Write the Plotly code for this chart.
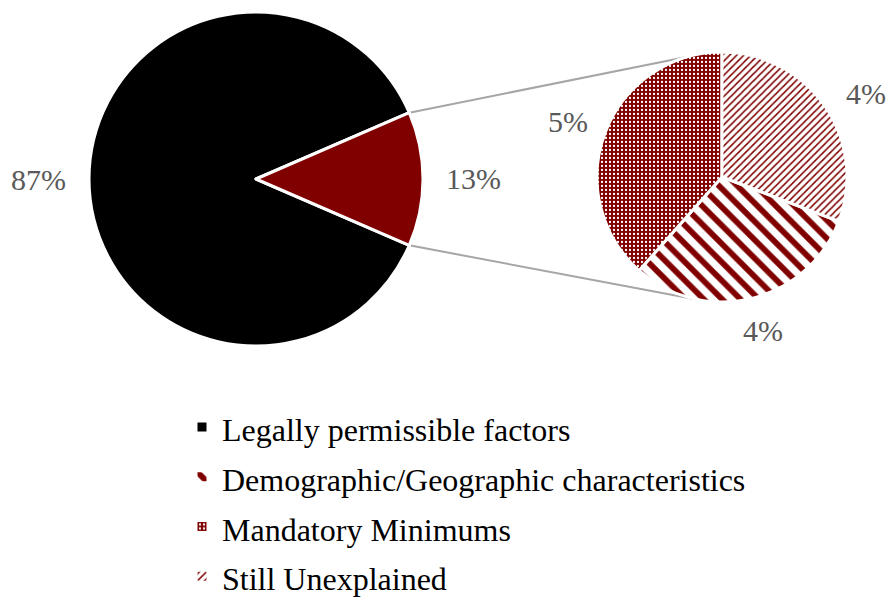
import math
import plotly.graph_objects as go

# ---------------- data ----------------
main_labels = ["Legally permissible factors", "Other (unexplained share)"]
main_values = [87, 13]

detail_labels = ["Legally permissible factors",
                 "Demographic/Geographic characteristics",
                 "Mandatory Minimums",
                 "Still Unexplained"]
detail_values = [0, 4, 5, 4]   # share of total (%); first entry only feeds the legend

# ---------------- style ----------------
W, H = 886, 601
DARK_RED = "#800000"
GREY_TXT = "#595959"
FONT = "Liberation Serif"

# pie geometry in pixels (center x, center y, radius)
L_CX, L_CY, L_R = 256, 179, 167
R_CX, R_CY, R_R = 722, 177, 125
# small pixel nudges for the detail-pie labels (x, y)
DET_LABEL_SHIFT = [(0, 0), (2, -7), (0, 3), (8, 10)]


def px2paper(x, y):
    return x / W, 1 - y / H


def dom(cx, cy, r):
    x0, y1 = px2paper(cx - r, cy - r)
    x1, y0 = px2paper(cx + r, cy + r)
    return dict(x=[x0, x1], y=[y0, y1])


def pt(cx, cy, r, ang):
    a = math.radians(ang)
    return cx + r * math.sin(a), cy - r * math.cos(a)


def leg(label):
    return f"<span style='font-size:32px'>{label}</span>"


# rotation: centre the second main slice at 3 o'clock
tot_main = sum(main_values)
rot_main = (90 - (main_values[0] + main_values[1] / 2) / tot_main * 360) % 360
main_angles = []
acc = rot_main
for v in main_values:
    a0 = acc
    acc += v / tot_main * 360
    main_angles.append((a0, acc))

# detail pie: last slice starts at 12 o'clock
tot_det = sum(detail_values)
rot_det = (-sum(detail_values[:-1]) / tot_det * 360) % 360
det_angles = []
acc = rot_det
for v in detail_values:
    a0 = acc
    acc += v / tot_det * 360
    det_angles.append((a0, acc))

fig = go.Figure()

fig.add_trace(go.Pie(
    labels=[leg(l) for l in main_labels],
    values=main_values,
    sort=False,
    direction="clockwise",
    rotation=rot_main,
    domain=dom(L_CX, L_CY, L_R),
    marker=dict(colors=["#000000", DARK_RED], line=dict(color="white", width=3)),
    textinfo="none",
    hoverinfo="label+percent",
    showlegend=False,
))

patterns = [
    dict(shape=""),
    dict(shape="\\", fgcolor=DARK_RED, bgcolor="white", size=13, solidity=0.45),
    dict(shape=".", fgcolor="white", bgcolor=DARK_RED, size=4, solidity=0.25),
    dict(shape="/", fgcolor=DARK_RED, bgcolor="white", size=5, solidity=0.3),
]

fig.add_trace(go.Pie(
    labels=[leg(l) for l in detail_labels],
    values=detail_values,
    sort=False,
    direction="clockwise",
    rotation=rot_det,
    domain=dom(R_CX, R_CY, R_R),
    marker=dict(colors=["#000000", DARK_RED, DARK_RED, DARK_RED],
                line=dict(color="white", width=3),
                pattern=dict(
                    shape=[p.get("shape", "") for p in patterns],
                    fgcolor=[p.get("fgcolor", "#000000") for p in patterns],
                    bgcolor=[p.get("bgcolor", "#000000") for p in patterns],
                    size=[p.get("size", 8) for p in patterns],
                    solidity=[p.get("solidity", 0.3) for p in patterns],
                    fillmode="replace",
                )),
    textinfo="none",
    hoverinfo="label+percent",
    showlegend=True,
))

# ---------------- percentage labels ----------------
LABEL_FONT = dict(family=FONT, size=30, color=GREY_TXT)
annotations = []
for (a0, a1), v in zip(main_angles, main_values):
    mid = (a0 + a1) / 2
    x, y = pt(L_CX, L_CY, L_R * 1.3, mid)
    xp, yp = px2paper(x, y)
    annotations.append(dict(x=xp, y=yp, xref="paper", yref="paper", text=f"{v}%",
                            xanchor="center", yanchor="middle",
                            showarrow=False, font=LABEL_FONT))
for (a0, a1), v, (dx, dy) in zip(det_angles, detail_values, DET_LABEL_SHIFT):
    if v == 0:
        continue
    mid = (a0 + a1) / 2
    x, y = pt(R_CX, R_CY, R_R * 1.32, mid)
    xp, yp = px2paper(x + dx, y + dy)
    annotations.append(dict(x=xp, y=yp, xref="paper", yref="paper", text=f"{v}%",
                            xanchor="center", yanchor="middle",
                            showarrow=False, font=LABEL_FONT))

# ---------------- connector lines ----------------
shapes = []
conn_right_angles = [344, 191]
for (edge_ang, r_ang) in zip([main_angles[1][0], main_angles[1][1]], conn_right_angles):
    x0, y0 = pt(L_CX, L_CY, L_R, edge_ang)
    x1, y1 = pt(R_CX, R_CY, R_R, r_ang)
    p0 = px2paper(x0, y0)
    p1 = px2paper(x1, y1)
    shapes.append(dict(type="line", xref="paper", yref="paper",
                       x0=p0[0], y0=p0[1], x1=p1[0], y1=p1[1],
                       line=dict(color="#A6A6A6", width=2), layer="below"))

fig.update_layout(
    width=W, height=H,
    margin=dict(l=0, r=0, t=0, b=0, pad=0, autoexpand=False),
    paper_bgcolor="white", plot_bgcolor="white",
    font=dict(family=FONT, color="#000000"),
    annotations=annotations,
    shapes=shapes,
    legend=dict(orientation="v", x=182 / W, y=1 - 397 / H, xanchor="left", yanchor="top",
                font=dict(family=FONT, size=36, color="#000000"),
                bgcolor="rgba(0,0,0,0)", traceorder="normal"),
)

fig.write_html("out.html")
